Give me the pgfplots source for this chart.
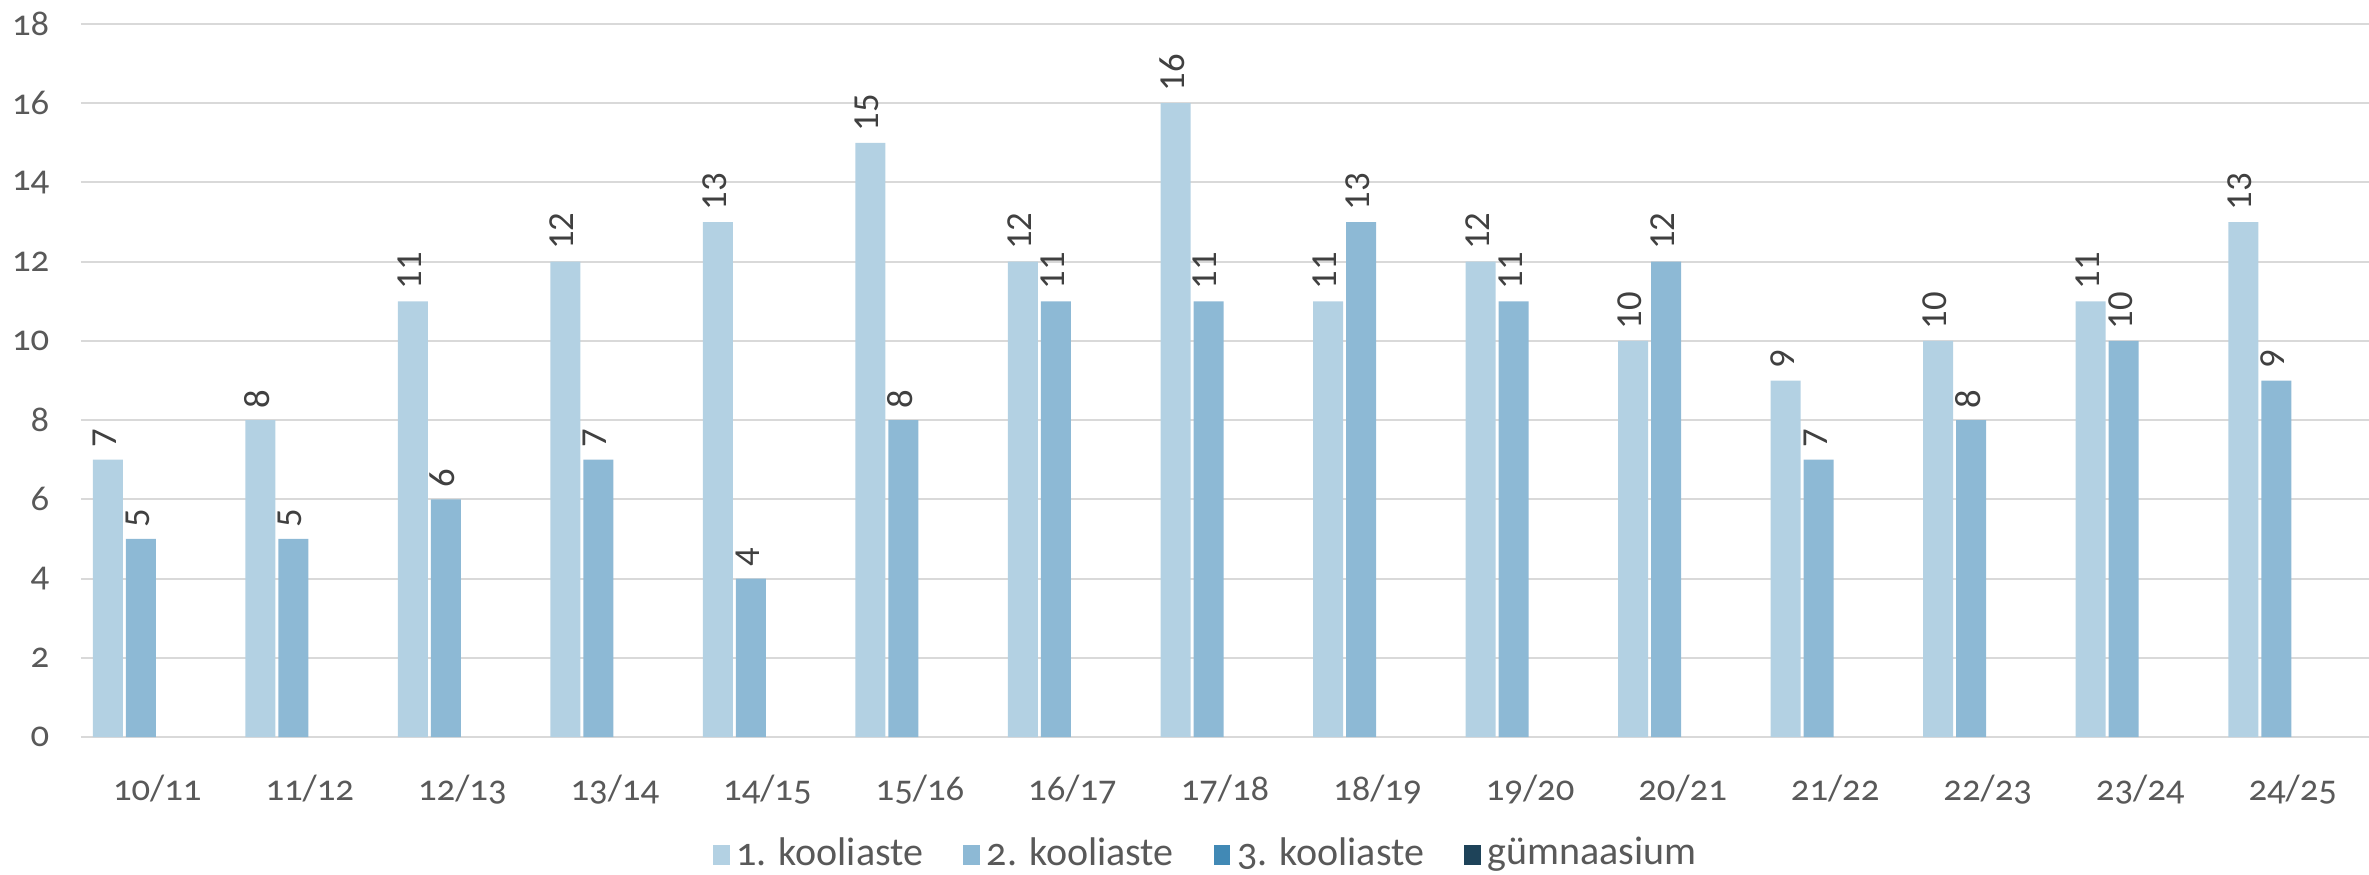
\documentclass[border=0pt]{standalone}
\usepackage{fontspec}
\setmainfont{Carlito}[Numbers=OldStyle]
\newfontfamily\labfont{Carlito}[Numbers=Lining]
\usepackage{pgfplots}
\pgfplotsset{compat=1.18}
\definecolor{sA}{HTML}{B3D1E3}
\definecolor{sB}{HTML}{8DB9D5}
\definecolor{sC}{HTML}{4189B5}
\definecolor{sD}{HTML}{1E4359}
\definecolor{gridc}{HTML}{D9D9D9}
\definecolor{tickc}{HTML}{595959}
\definecolor{labc}{HTML}{404040}
\begin{document}
\begin{tikzpicture}
\begin{axis}[
  scale only axis,
  width=686.4pt, height=213.9pt,
  xmin=-0.5, xmax=14.5,
  ymin=0, ymax=18,
  ytick={0,2,...,18},
  xtick={0,...,14},
  xticklabels={10/11,11/12,12/13,13/14,14/15,15/16,16/17,17/18,18/19,19/20,20/21,21/22,22/23,23/24,24/25},
  axis line style={draw=none},
  major tick length=0pt,
  ymajorgrids,
  grid style={gridc, line width=0.6pt},
  tick label style={font=\fontsize{11}{13}\selectfont, color=tickc},
  /pgf/number format/assume math mode=true,
  yticklabel style={xshift=-6pt},
  xticklabel style={yshift=-8pt},
  ybar,
  bar width=9pt,
  legend style={draw=none, fill=none, at={(0.4926,0)}, yshift=-35pt, anchor=center,
    legend columns=-1, font=\fontsize{12}{14}\selectfont, text=tickc,
    /tikz/every even column/.append style={column sep=10pt}},
  legend image code/.code={\fill[#1] (0pt,-3.3pt) rectangle (5pt,2.7pt);},
  nodes near coords,
  every node near coord/.append style={rotate=90, anchor=west, font=\labfont\fontsize{11}{13}\selectfont, color=labc, yshift=1pt},
]
\addplot[fill=sA, draw=none, bar shift=-14.85pt] coordinates {
 (0,7) (1,8) (2,11) (3,12) (4,13) (5,15) (6,12) (7,16) (8,11) (9,12) (10,10) (11,9) (12,10) (13,11) (14,13)};
\addplot[fill=sB, draw=none, bar shift=-4.95pt] coordinates {
 (0,5) (1,5) (2,6) (3,7) (4,4) (5,8) (6,11) (7,11) (8,13) (9,11) (10,12) (11,7) (12,8) (13,10) (14,9)};
\addlegendentry{1. kooliaste}
\addlegendentry{2. kooliaste}
\addlegendimage{fill=sC, draw=none}
\addlegendentry{3. kooliaste}
\addlegendimage{fill=sD, draw=none}
\addlegendentry{gümnaasium}
\end{axis}
\pgfresetboundingbox
\path[use as bounding box] (-24.3pt,-41.1pt) rectangle (686.4pt,221.1pt);
\end{tikzpicture}
\end{document}
